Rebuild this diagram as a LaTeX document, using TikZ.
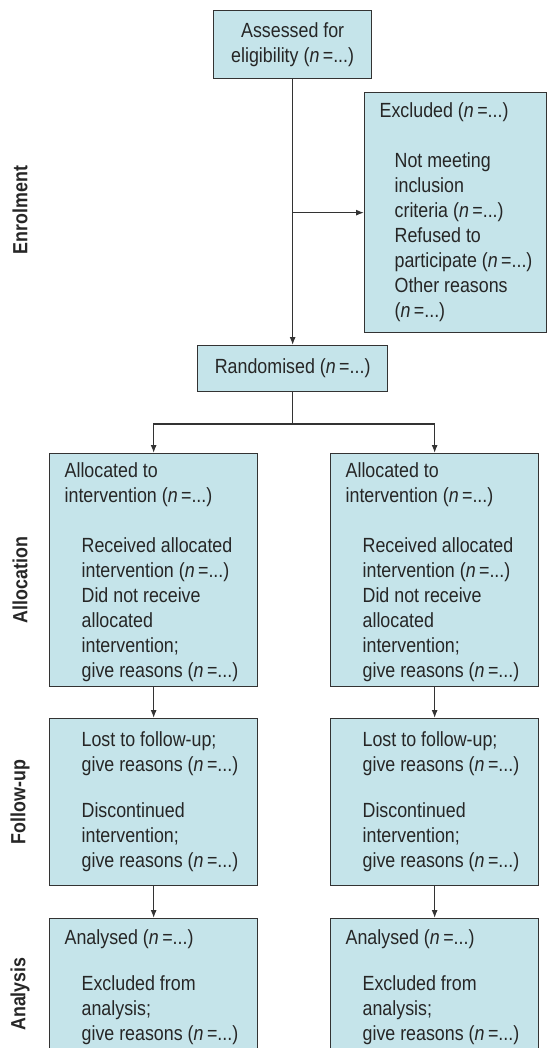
\documentclass[tikz,border=0pt]{standalone}
\usepackage{fontspec}
\setmainfont{Liberation Sans}[FakeStretch=0.87]
\usetikzlibrary{arrows.meta,positioning}
\definecolor{boxblue}{HTML}{C5E4EA}
\definecolor{linegrey}{HTML}{333333}
\newcommand{\nval}{(\textit{n}\,=...)}
\newcommand{\boxtext}[4]{\parbox[c][#1][t]{#2}{\raggedright\rule{0pt}{#3}#4}}

\begin{document}
\begin{tikzpicture}[x=1pt, y=-1pt, font=\fontsize{20.5}{25}\selectfont]
% Styles
\tikzset{
    stepbox/.style={draw=linegrey, line width=1.3pt, fill=boxblue,
        inner sep=0pt, anchor=north west, text=black!85},
    phase/.style={font=\fontsize{20.5}{25}\selectfont\bfseries, rotate=90, text=black!85},
    arr/.style={draw=linegrey, line width=1.2pt, -{Latex[length=8pt, width=6pt]}},
    link/.style={draw=linegrey, line width=1.2pt}
}

\useasboundingbox (0, 0) rectangle (547, 1048);
\clip (0, 0) rectangle (547, 1048);

% Nodes
\node[stepbox, minimum width=158pt, minimum height=68pt, align=center]
    (assess) at (213, 10) {Assessed for\\eligibility \nval};
\node[stepbox]
    (excl) at (364, 92) {\boxtext{240pt}{182pt}{25pt}{\leftskip=15pt Excluded \nval\par
    \vspace{25pt}\leftskip=30pt Not meeting\\ inclusion\\ criteria \nval\\ Refused to\\
    participate \nval\\ Other reasons\\ \nval}};
\node[stepbox, minimum width=190pt, minimum height=46pt, align=center]
    (rand) at (197, 345) {Randomised \nval};

\node[stepbox]
    (allocL) at (49, 453) {\boxtext{233pt}{208pt}{24pt}{\leftskip=15pt Allocated to\\
    intervention \nval\par\vspace{25pt}\leftskip=32pt Received allocated\\
    intervention \nval\\ Did not receive\\ allocated\\ intervention;\\ give reasons \nval}};
\node[stepbox]
    (allocR) at (330, 453) {\boxtext{233pt}{208pt}{24pt}{\leftskip=15pt Allocated to\\
    intervention \nval\par\vspace{25pt}\leftskip=32pt Received allocated\\
    intervention \nval\\ Did not receive\\ allocated\\ intervention;\\ give reasons \nval}};

\node[stepbox]
    (followL) at (49, 718) {\boxtext{167pt}{208pt}{28pt}{\leftskip=32pt Lost to follow-up;\\
    give reasons \nval\par\vspace{21pt} Discontinued\\ intervention;\\ give reasons \nval}};
\node[stepbox]
    (followR) at (330, 718) {\boxtext{167pt}{208pt}{28pt}{\leftskip=32pt Lost to follow-up;\\
    give reasons \nval\par\vspace{21pt} Discontinued\\ intervention;\\ give reasons \nval}};

\node[stepbox]
    (analL) at (49, 918) {\boxtext{150pt}{208pt}{26pt}{\leftskip=15pt Analysed \nval\par
    \vspace{21pt}\leftskip=32pt Excluded from\\ analysis;\\ give reasons \nval}};
\node[stepbox]
    (analR) at (330, 918) {\boxtext{150pt}{208pt}{26pt}{\leftskip=15pt Analysed \nval\par
    \vspace{21pt}\leftskip=32pt Excluded from\\ analysis;\\ give reasons \nval}};

% Phase labels
\node[phase] (lblEnrol) at (20, 210) {Enrolment};
\node[phase] (lblAlloc) at (20, 580) {Allocation};
\node[phase] (lblFollow) at (20, 802) {Follow-up};
\node[phase] (lblAnal) at (20, 994) {Analysis};

% Connections
\draw[arr] (assess) -- (rand);
\draw[arr] (assess.south |- excl.west) -- (excl.west);

\coordinate (split) at (rand.south |- 0, 424);
\draw[link] (rand) -- (split);
\draw[arr] (split) -| (allocL);
\draw[arr] (split) -| (allocR);

\draw[arr] (allocL) -- (followL);
\draw[arr] (allocR) -- (followR);
\draw[arr] (followL) -- (analL);
\draw[arr] (followR) -- (analR);
\end{tikzpicture}
\end{document}
